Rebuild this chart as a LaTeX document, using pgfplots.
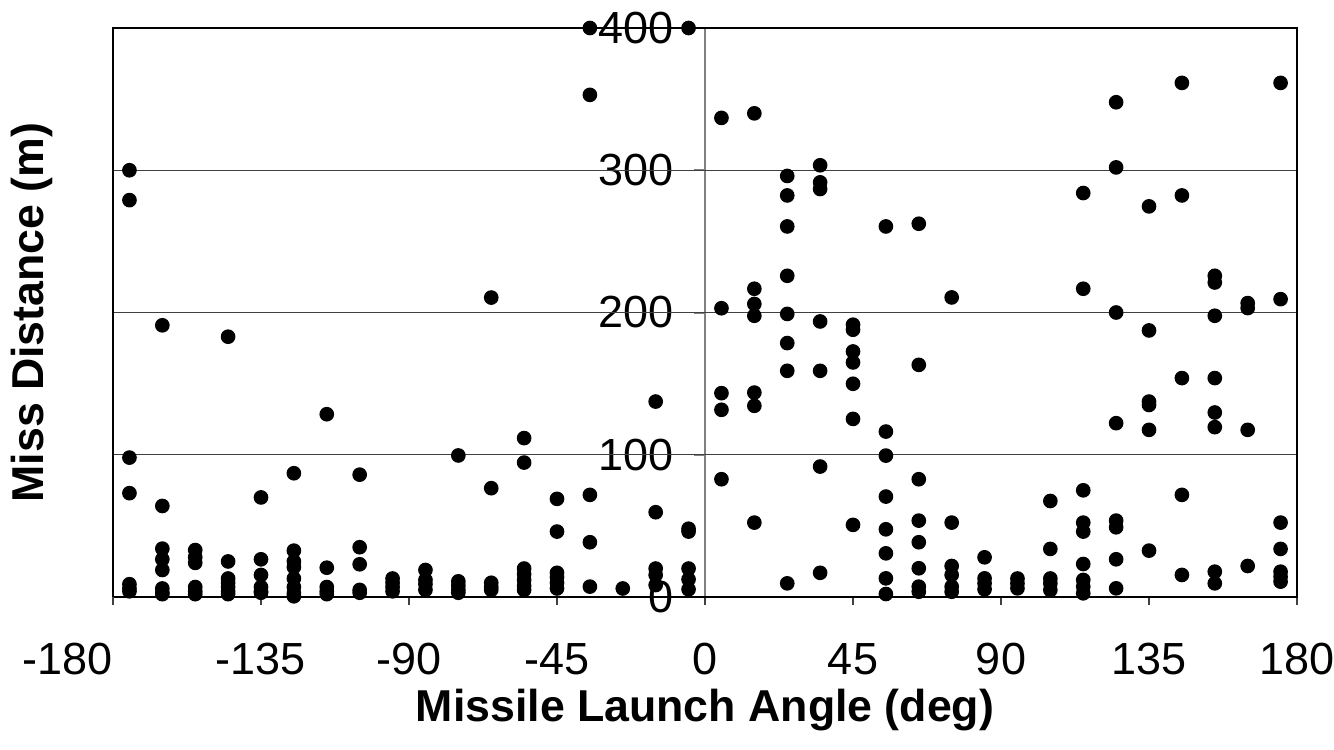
\documentclass[border=0pt]{standalone}
\usepackage{fontspec}
\setmainfont{Liberation Sans}
\usepackage{pgfplots}
\pgfplotsset{compat=1.18}
\pgfplotstableread{
x y
-175 300
-175 279
-175 98
-175 73
-175 9
-175 6
-175 4
-165 191
-165 64
-165 34
-165 26.5
-165 19
-165 6
-165 3
-165 2
-155 33
-155 28
-155 24
-155 7
-155 4
-155 2
-145 183
-145 25
-145 13
-145 10
-145 7
-145 4
-145 2
-135 70
-135 26.5
-135 15.5
-135 7
-135 4
-135 3
-125 87
-125 32.6
-125 25
-125 21
-125 13
-125 7
-125 2.6
-125 0.5
-115 128.5
-115 20.6
-115 7
-115 4
-115 2
-105 86
-105 35
-105 23
-105 5
-105 3
-95 13
-95 10
-95 7
-95 4
-85 19
-85 12
-85 9
-85 5
-75 99.5
-75 11
-75 8
-75 5
-75 3
-65 210.5
-65 76.5
-65 10
-65 7
-65 5
-55 111.7
-55 94.5
-55 20
-55 16
-55 12
-55 8
-55 5
-45 69
-45 46
-45 17
-45 14
-45 10
-45 6
-35 400
-35 353
-35 71.8
-35 38.5
-35 7.3
-25 6
-15 137.4
-15 59.6
-15 20
-15 15.5
-15 8.4
-5 400
-5 48
-5 46
-5 20
-5 12.4
-5 5.4
5 336.8
5 203
5 143.3
5 131.6
5 82.8
15 340
15 216.7
15 206
15 197.7
15 143.7
15 134.4
15 52.3
25 296
25 282.3
25 260.5
25 225.8
25 199
25 178.5
25 159
25 9.6
35 303.5
35 291.5
35 286.8
35 193.7
35 159
35 91.7
35 17
45 191.4
45 187.9
45 172.6
45 164.9
45 149.9
45 125.2
45 50.7
55 260.5
55 116.3
55 99.4
55 70.6
55 47.6
55 30.7
55 13.1
55 2.1
65 262.4
65 163.2
65 82.8
65 53.7
65 38.5
65 20.2
65 7.3
65 3.7
75 210.6
75 52.3
75 21.8
75 15.5
75 7.3
75 3.7
85 27.9
85 13.1
85 9.6
85 5.4
95 13
95 9.6
95 6.1
105 67.5
105 33.8
105 13
105 9.6
105 4.9
115 284
115 216.7
115 75
115 52.3
115 46
115 23.2
115 12
115 7.3
115 2.6
125 347.8
125 302
125 200
125 122.2
125 53.7
125 49
125 26.5
125 6.1
135 274.6
135 187.4
135 137.4
135 135
135 117.5
135 32.6
145 361.4
145 282.3
145 153.9
145 71.8
145 15.5
155 225.8
155 221.1
155 197.7
155 153.9
155 129.7
155 119.4
155 17.8
155 9.6
165 206.6
165 203.1
165 117.5
165 21.8
175 361.4
175 209.4
175 52.3
175 33.8
175 17.8
175 14.3
175 10.8
}\datatable
\definecolor{axgray}{RGB}{128,128,128}
\definecolor{gridgray}{RGB}{64,64,64}
\begin{document}
\begin{tikzpicture}
\useasboundingbox (-33.9pt,-45.6pt) rectangle (366.3pt,179.1pt);
% y axis at x = 0 with its labels
\begin{axis}[
  at={(177.6pt,0pt)}, anchor=south west,
  scale only axis, width=177.6pt, height=170.7pt,
  xmin=0, xmax=180, ymin=0, ymax=400,
  axis x line=none, axis y line=left,
  y axis line style={-, draw=axgray, line width=0.6pt},
  ytick={0,100,200,300,400},
  yticklabels={0,100,200,300,400},
  tick align=outside,
  major tick length=3.3pt,
  ytick style={draw=axgray, line width=0.6pt},
  yticklabel style={font=\fontsize{13.5}{16}\selectfont, anchor=east, inner sep=0pt, xshift=-6pt},
]
\end{axis}
% main box with data
\begin{axis}[
  at={(0pt,0pt)}, anchor=south west,
  scale only axis, width=355.2pt, height=170.7pt,
  xmin=-180, xmax=180, ymin=0, ymax=400,
  clip=false,
  axis line style={line width=0.7pt, black},
  xtick={-135,-90,-45,0,45,90,135,180},
  xticklabels={-135,-90,-45,0,45,90,135,180},
  extra x ticks={-180},
  extra x tick labels={-180},
  extra x tick style={xticklabel style={xshift=-13.5pt}},
  xtick pos=bottom,
  tick align=outside,
  major tick length=2.4pt,
  xtick style={draw=gridgray, line width=0.5pt},
  xticklabel style={font=\fontsize{13.5}{16}\selectfont, anchor=center, inner sep=0pt, yshift=-16.2pt},
  ytick={100,200,300},
  yticklabels={},
  ytick style={draw=none},
  ymajorgrids,
  grid style={draw=gridgray, line width=0.35pt},
  xlabel={\bfseries Missile Launch Angle (deg)},
  ylabel={\bfseries Miss Distance (m)},
  label style={font=\fontsize{13.4}{16}\selectfont},
  xlabel style={at={(axis description cs:0.5,-0.199)}, anchor=center},
  ylabel style={at={(axis description cs:-0.0685,0.5)}, anchor=center},
]
\addplot[only marks, mark=*, mark size=2pt, black] table[x=x, y=y] {\datatable};
\end{axis}
\end{tikzpicture}
\end{document}
